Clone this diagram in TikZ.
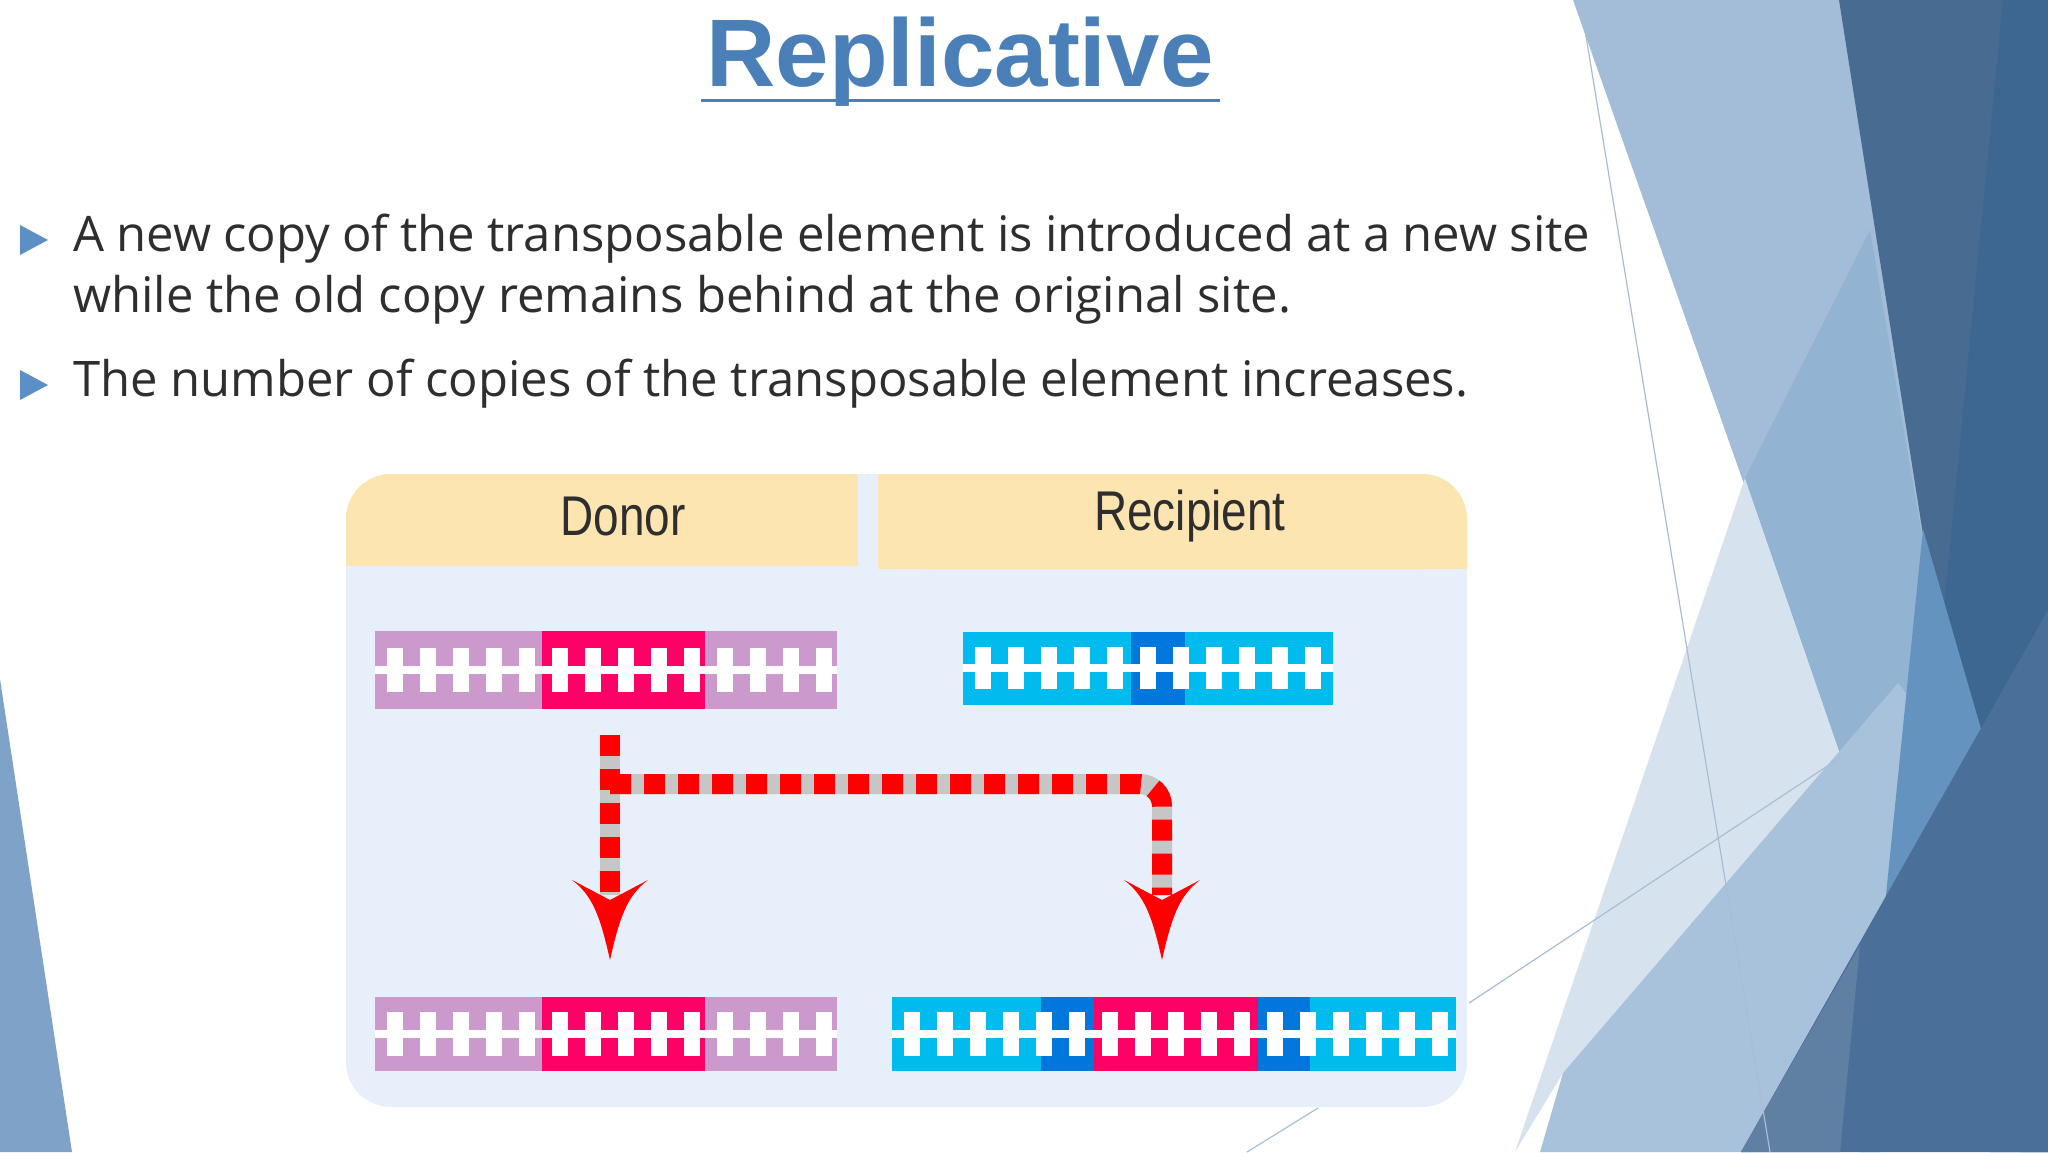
\documentclass[tikz,border=0pt]{standalone}
\usepackage{fontspec}
\setmainfont{Open Sans}
\newfontfamily\ttl{Liberation Sans}
\usetikzlibrary{calc}
\definecolor{ttlblue}{HTML}{4A7FB8}
\definecolor{bul}{HTML}{5B8FC6}
\definecolor{hdr}{HTML}{FDE5B1}
\definecolor{pnl}{HTML}{E6EFFA}
\definecolor{pink}{HTML}{CC99CC}
\definecolor{rose}{HTML}{FF0066}
\definecolor{cyanb}{HTML}{00BBEE}
\definecolor{darkb}{HTML}{0077DD}
\definecolor{txt}{HTML}{2E2E2E}
\definecolor{bgA}{HTML}{A3BDD8}
\definecolor{bgC}{HTML}{D6E3EF}
\definecolor{bgD}{HTML}{93B3D2}
\definecolor{bgE}{HTML}{A8C2DC}
\definecolor{bgF}{HTML}{486B91}
\definecolor{bgG}{HTML}{3D6791}
\definecolor{bgH}{HTML}{6593C0}
\definecolor{bgI}{HTML}{4A7099}
\definecolor{bgJ}{HTML}{5F7FA3}
\definecolor{bgK}{HTML}{7FA3C8}
\definecolor{thinc}{HTML}{A9BDD2}
\newcommand\ladder[4]{% x1 x2 ycenter halfheight
  \fill[white] (#1,#3-4) rectangle (#2,#3+4);
  \pgfmathsetmacro\xs{#1+20}
  \pgfmathsetmacro\xe{#2-10}
  \pgfmathsetmacro\xn{\xs+33}
  \foreach \xx in {\xs,\xn,...,\xe}{\fill[white] (\xx-8,#3-#4) rectangle (\xx+8,#3+#4);}
}
\tikzset{
  bullet/.style={fill=bul,draw=none},
  body/.style={font=\fontsize{49}{61}\selectfont,text=txt,anchor=north west,inner sep=0},
  head/.style={font=\ttl\fontsize{56}{60}\selectfont,text=txt,xscale=0.82},
  gline/.style={line width=20pt,draw=gray!45},
  rline/.style={line width=20pt,draw=red,dash pattern=on 21pt off 13pt},
  thin/.style={draw=thinc,line width=1.2pt}
}
\begin{document}
\begin{tikzpicture}[x=1pt,y=-1pt]
\useasboundingbox (0,0) rectangle (2048,1152);
\fill[white] (0,0) rectangle (2048,1152);
% background shapes
\fill[bgA] (1573,0) -- (1845,0) -- (2000,1000) -- (1874,852) -- cycle;
\fill[bgC] (1515,1152) -- (1745,478) -- (1874,852) -- (1563,1073) -- cycle;
\fill[bgD] (1745,478) -- (1870,230) -- (1960,760) -- (1874,852) -- cycle;
\fill[bgE] (1540,1152) -- (1563,1073) -- (1898,683) -- (1960,760) -- (1750,1152) -- cycle;
\fill[bgF] (1839,0) -- (2048,0) -- (2048,1152) -- (2020,1152) -- cycle;
\fill[bgG] (2003,0) -- (2048,0) -- (2048,1152) -- (1990,1152) -- (1935,700) -- cycle;
\fill[bgH] (1923,529) -- (1990,760) -- (1880,1152) -- (1860,1152) -- cycle;
\fill[bgI] (1741,1152) -- (2048,610) -- (2048,1152) -- cycle;
\fill[bgJ] (1741,1152) -- (1860,945) -- (1840,1152) -- cycle;
\draw[thin] (1580,0) -- (1770,1152);
\draw[thin] (1469,1003) -- (1841,757);
\draw[thin] (1247,1152) -- (1318,1108);
\fill[bgK] (0,679) -- (72,1152) -- (0,1152) -- cycle;
% title
\node[font=\ttl\bfseries\fontsize{96}{100}\selectfont,text=ttlblue,inner sep=0] (title) at (960,62) {Replicative};
\draw[ttlblue,line width=3pt] (701,100) -- (1220,100);
% bullets
\fill[bullet] (20,225) -- (48,240) -- (20,255) -- cycle;
\fill[bullet] (20,370) -- (48,385) -- (20,400) -- cycle;
\node[body,text width=1517pt,align=justify] (b1) at (73,214) {A new copy of the transposable element is introduced at a new site while the old copy remains behind at the original site.};
\node[body] (b2) at (73,359) {The number of copies of the transposable element increases.};
% panel
\fill[pnl,rounded corners=45pt] (346,474) rectangle (1467,1107);
\fill[hdr,rounded corners=45pt] (346,474) rectangle (858,566);
\fill[hdr] (346,520) rectangle (858,566);
\fill[hdr,rounded corners=45pt] (878,474) rectangle (1467,569);
\fill[hdr] (878,520) rectangle (1467,569);
\fill[hdr] (878,474) rectangle (1000,569);
\fill[hdr] (700,474) rectangle (858,566);
\node[head] (donor) at (623,516) {Donor};
\node[head] (recip) at (1190,516) {Recipient};
% donor top
\fill[pink] (375,631) rectangle (837,709);
\fill[rose] (542,631) rectangle (705,709);
\ladder{375}{837}{670}{22}
% recipient top
\fill[cyanb] (963,632) rectangle (1333,705);
\fill[darkb] (1131,632) rectangle (1185,705);
\ladder{963}{1333}{668}{21}
% donor bottom
\fill[pink] (375,997) rectangle (837,1071);
\fill[rose] (542,997) rectangle (705,1071);
\ladder{375}{837}{1034}{22}
% recipient bottom
\fill[cyanb] (892,997) rectangle (1456,1071);
\fill[darkb] (1041,997) rectangle (1310,1071);
\fill[rose] (1094,997) rectangle (1258,1071);
\ladder{892}{1456}{1034}{22}
% arrows
\coordinate (s) at (610,735);
\coordinate (e1) at (610,895);
\coordinate (k) at (610,784);
\coordinate (e2) at (1162,895);
\draw[gline] (s) -- (e1);
\draw[gline,rounded corners=22pt] (k) -- (1162,784) -- (e2);
\draw[rline] (s) -- (e1);
\draw[rline,rounded corners=22pt] (k) -- (1162,784) -- (e2);
\fill[red] (572,880) .. controls (592,895) and (600,915) .. (610,960) .. controls (620,915) and (628,895) .. (648,880) -- (610,900) -- cycle;
\fill[red] (1124,880) .. controls (1144,895) and (1152,915) .. (1162,960) .. controls (1172,915) and (1180,895) .. (1200,880) -- (1162,900) -- cycle;
\end{tikzpicture}
\end{document}
